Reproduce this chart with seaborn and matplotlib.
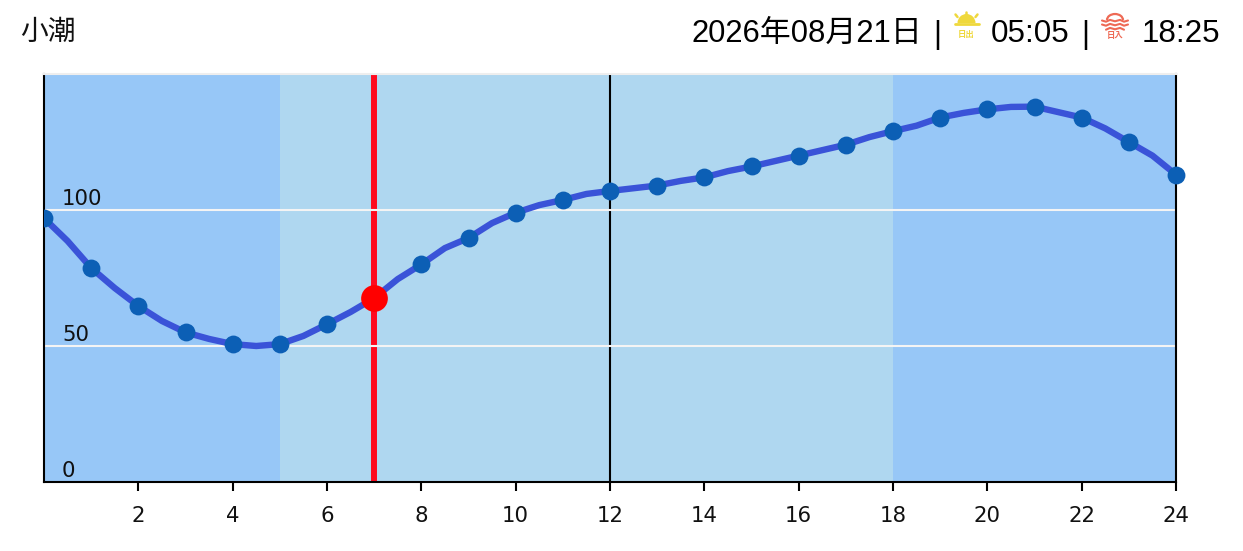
"""潮汐グラフ: 小潮 2026-08-21"""
import numpy as np
import pandas as pd
import matplotlib
matplotlib.use("Agg")
import matplotlib.pyplot as plt
from matplotlib.patches import Wedge, Arc
import seaborn as sns

# 毎時の潮位
hours = list(range(25))
tide = [97, 78.7, 64.7, 55, 50.7, 50.7, 58, 67.6, 80, 89.7, 99, 103.7, 107,
        109, 112, 116, 120, 124, 129, 134, 137, 138, 134, 125, 113]
# 線の形用に 30 分ごとの読み取り値
half_hours = [0.5, 1.5, 2.5, 3.5, 4.5, 5.5, 6.5, 7.5, 8.5, 9.5, 10.5, 11.5,
              12.5, 13.5, 14.5, 15.5, 16.5, 17.5, 18.5, 19.5, 20.5, 21.5, 22.5, 23.5]
half_tide = [88.6, 71.3, 59.2, 52.6, 50.0, 53.7, 62.5, 74.6, 86, 95.2, 101.8, 105.9,
             108, 110.7, 114.3, 118, 122, 126.8, 131, 135.7, 137.9, 136, 130, 120]
sunrise_h, sunset_h = 5, 18
now_h, now_tide = 7, 67.6
y_lines = [50, 100]
y_labels = [0, 50, 100]
x_ticks = list(range(2, 25, 2))

NIGHT = "#97c7f7"
DAY = "#afd7f0"
LINE = "#3a53d8"
DOT = "#0c5fb5"
RED = "#ff0a1e"
SUN = "#efd83c"
SET = "#ee6a55"
FONT = ["Liberation Sans", "Noto Sans CJK JP", "DejaVu Sans"]

sns.set_theme(style="white")
plt.rcParams["font.family"] = ["DejaVu Sans", "Noto Sans CJK JP"]

df = pd.DataFrame({"hour": hours, "tide": tide})
curve = pd.concat([df, pd.DataFrame({"hour": half_hours, "tide": half_tide})]).sort_values("hour")

fig = plt.figure(figsize=(12.43, 5.51), dpi=100)
ax = fig.add_axes([44 / 1243, 1 - 482 / 551, (1176 - 44) / 1243, (482 - 74) / 551])

ax.axvspan(0, sunrise_h, color=NIGHT, lw=0, zorder=0)
ax.axvspan(sunrise_h, sunset_h, color=DAY, lw=0, zorder=0)
ax.axvspan(sunset_h, 24, color=NIGHT, lw=0, zorder=0)

ax.axvline(now_h, color=RED, lw=4.3, zorder=1)
ax.axvline(12, color="black", lw=1.5, zorder=1)
for v in y_lines:
    ax.axhline(v, color="#f4f4f4", lw=1.5, zorder=2)

sns.lineplot(data=curve, x="hour", y="tide", color=LINE, lw=4.6, ax=ax, zorder=3,
             errorbar=None)
# 左端の点だけ軸で切れている
sns.scatterplot(data=df[df["hour"] == 0], x="hour", y="tide", color=DOT, s=165, lw=0, ax=ax, zorder=4)
sns.scatterplot(data=df[df["hour"] > 0], x="hour", y="tide", color=DOT, s=165, lw=0, ax=ax, zorder=4,
                clip_on=False)
ax.scatter([now_h], [now_tide], color="#ff0000", s=370, lw=0, zorder=5)

ax.set_xlim(0, 24)
ax.set_ylim(0, 150)
ax.set_xlabel("")
ax.set_ylabel("")
ax.set_yticks([])
ax.set_xticks(x_ticks)
ax.tick_params(axis="x", bottom=True, length=6.5, width=1.5, color="black", pad=11,
               labelsize=15.3, labelcolor="#111111")

for side in ["left", "right", "bottom"]:
    ax.spines[side].set_color("black")
    ax.spines[side].set_linewidth(1.5)
ax.spines["top"].set_color("#eeeeee")
ax.spines["top"].set_linewidth(1.5)

for v in y_labels:
    ax.annotate(str(v), (0, v), xytext=(18, 1), textcoords="offset pixels",
                fontsize=15.3, color="#111111", va="bottom", ha="left", zorder=6)

# ヘッダーとアイコンはピクセル座標で配置
top = fig.add_axes([0, 0, 1, 1], facecolor="none")
top.set_xlim(0, 1243)
top.set_ylim(551, 0)
top.axis("off")

top.text(20, 33, "小潮", fontsize=20, family=FONT, color="#111111", va="center", ha="left")
top.text(692, 34, "2026年08月21日", fontsize=22.3, family=FONT, color="black", va="center", ha="left")
top.text(937, 35, "|", fontsize=22, family=FONT, color="black", va="center", ha="center")
top.text(991, 34, "05:05", fontsize=22.6, family=FONT, color="black", va="center", ha="left")
top.text(1085, 35, "|", fontsize=22, family=FONT, color="black", va="center", ha="center")
top.text(1142, 34, "18:25", fontsize=22.6, family=FONT, color="black", va="center", ha="left")

# 日の出
top.add_patch(Wedge((966.5, 23), 9, 180, 360, color=SUN, lw=0))
top.plot([955, 979], [23.5, 23.5], color=SUN, lw=2, solid_capstyle="round")
for x0, y0, x1, y1 in [(966.5, 11.5, 966.5, 14.5), (955.5, 14.5, 957.5, 17), (977.5, 14.5, 975.5, 17)]:
    top.plot([x0, x1], [y0, y1], color=SUN, lw=1.8, solid_capstyle="round")
top.text(966.5, 35.5, "日出", fontsize=6, family=FONT, color=SUN, weight="bold", va="center", ha="center")

# 日の入り
top.add_patch(Arc((1115, 20), 16, 12, theta1=180, theta2=360, color=SET, lw=1.6))
wave_x = [1102, 1106, 1110, 1115, 1120, 1124, 1128]
wave_y = [0, 1.2, -0.6, 0.8, -0.6, 1.2, 0]
for base in [20.5, 24.5]:
    top.plot(wave_x, [base + d for d in wave_y], color=SET, lw=1.5)
top.plot(wave_x[1:-1], [28.5 + d for d in wave_y[1:-1]], color=SET, lw=1.5)
top.text(1115, 36, "日入", fontsize=6, family=FONT, color=SET, weight="bold", va="center", ha="center")

fig.savefig("out.png", dpi=100)
plt.close(fig)
